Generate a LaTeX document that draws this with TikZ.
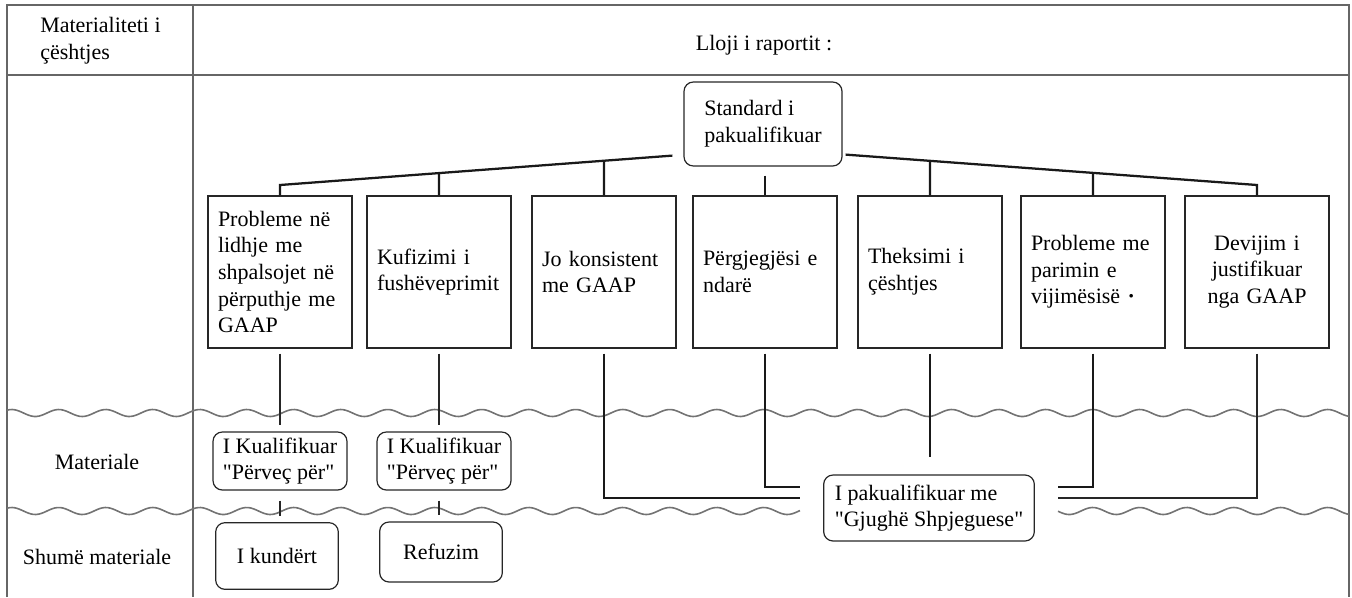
\documentclass[tikz,border=0pt]{standalone}
\usepackage{fontspec}
\setmainfont{Liberation Serif}
\usetikzlibrary{calc}
\begin{document}
\begin{tikzpicture}[x=0.75pt,y=-0.75pt,
  font=\fontsize{16.5}{20}\selectfont,
  frame/.style={draw=black!60, line width=1.4pt},
  wave/.style={draw=black!55, line width=1.2pt},
  cbox/.style={draw=black!85, line width=1pt, minimum width=108pt, minimum height=114pt, inner sep=0pt, text width=93pt, align=left},
  rbox/.style={draw=black!85, line width=0.9pt, rounded corners=7pt, inner sep=0pt},
  conn/.style={draw=black!90, line width=1.7pt},
  thinconn/.style={draw=black!85, line width=1pt},
]
\useasboundingbox (0,0) rectangle (1352,597);
% frame
\draw[frame] (7,597) -- (7,5) -- (1349,5) -- (1349,597);
\draw[frame] (7,75) -- (1349,75);
\draw[frame] (193,5) -- (193,597);
% wavy dividers
\draw[wave] plot[domain=7:1349, samples=500] (\x,{413-3.5*sin(\x/47*360)});
\draw[wave] plot[domain=7:800, samples=300] (\x,{511-3.5*sin(\x/47*360)});
\draw[wave] plot[domain=1058:1349, samples=120] (\x,{511-3.5*sin(\x/47*360)});
% header texts
\node[anchor=west, align=left, inner sep=0pt] (hdrA) at (40,41) {Materialiteti i\\çështjes};
\node (hdrB) at (764,45) {Lloji i raportit :};
\node (rowA) at (97,462) {Materiale};
\node (rowB) at (97,557) {Shumë materiale};
% top node
\node[rbox, minimum width=118.5pt, minimum height=63pt, align=left] (std) at (763,124) {Standard i\\pakualifikuar};
% children
\node[cbox] (c1) at (280,272) {Probleme në\\lidhje me\\shpalsojet në\\përputhje me\\GAAP};
\node[cbox] (c2) at (439,272) {Kufizimi i\\fushëveprimit};
\node[cbox] (c3) at (604,272) {Jo konsistent\\me GAAP};
\node[cbox] (c4) at (765,272) {Përgjegjësi e\\ndarë};
\node[cbox] (c5) at (930,272) {Theksimi i\\çështjes};
\node[cbox] (c6) at (1093,272) {Probleme me\\parimin e\\vijimësisë \textbf{·}};
\node[cbox, align=center] (c7) at (1257,272) {Devijim i\\justifikuar\\nga GAAP};
% lower nodes
\node[rbox, minimum width=100.5pt, minimum height=43.5pt, align=left] (k1) at (280,461) {I Kualifikuar\\\textquotedbl Përveç për\textquotedbl};
\node[rbox, minimum width=100.5pt, minimum height=43.5pt, align=left] (k2) at (444,461) {I Kualifikuar\\\textquotedbl Përveç për\textquotedbl};
\node[rbox, minimum width=92pt, minimum height=50pt] (kund) at (277,556) {I kundërt};
\node[rbox, minimum width=92pt, minimum height=45pt] (ref) at (441,552) {Refuzim};
\node[rbox, minimum width=158pt, minimum height=49.5pt, align=left] (pak) at (929,508) {I pakualifikuar me\\\textquotedbl Gjughë Shpjeguese\textquotedbl};
% branch lines from the top node
\coordinate (L0) at ([shift={(-11,-11)}]std.south west);
\coordinate (R0) at ([shift={(3,-12)}]std.south east);
\coordinate (Lend) at (280,185);
\coordinate (Rend) at (1257,185);
\draw[conn] (L0) -- (Lend) -- (c1.north);
\draw[conn] (R0) -- (Rend) -- (c7.north);
\draw[conn] (intersection of L0--Lend and c2.north--c2.center) -- (c2.north);
\draw[conn] (intersection of L0--Lend and c3.north--c3.center) -- (c3.north);
\draw[conn] ($(std.south -| c4.north)+(0,9)$) -- (c4.north);
\draw[conn] (intersection of R0--Rend and c5.north--c5.center) -- (c5.north);
\draw[conn] (intersection of R0--Rend and c6.north--c6.center) -- (c6.north);
% lower connectors
\draw[thinconn, shorten <=3.75pt, shorten >=4.5pt] (c1.south) -- (c1.south |- k1.north);
\draw[thinconn, shorten <=3.75pt, shorten >=4.5pt] (c2.south) -- (c2.south |- k2.north);
\draw[thinconn, shorten <=7.5pt, shorten >=4.5pt] (c1.south |- k1.south) -- (c1.south |- kund.north);
\draw[thinconn, shorten <=7.5pt, shorten >=4.5pt] (c2.south |- k2.south) -- (c2.south |- ref.north);
\coordinate (pL1) at (800,487);
\coordinate (pL2) at (800,498);
\coordinate (pR1) at (1058,487);
\coordinate (pR2) at (1058,498);
\draw[conn, shorten <=3.75pt] (c3.south) -- (c3.south |- pL2) -- (pL2);
\draw[conn, shorten <=3.75pt] (c4.south) -- (c4.south |- pL1) -- (pL1);
\draw[conn, shorten <=3.75pt, shorten >=12.75pt] (c5.south) -- (c5.south |- pak.north);
\draw[conn, shorten <=3.75pt] (c6.south) -- (c6.south |- pR1) -- (pR1);
\draw[thinconn, shorten <=3.75pt] (c7.south) -- (c7.south |- pR2) -- (pR2);
\end{tikzpicture}
\end{document}
